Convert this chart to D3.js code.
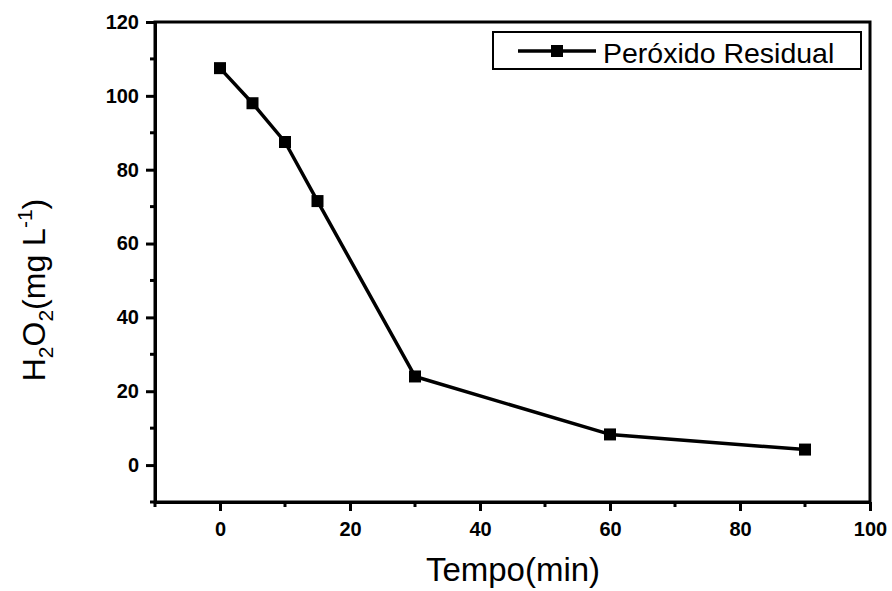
<!DOCTYPE html>
<html>
<head>
<meta charset="utf-8">
<script src="https://cdn.jsdelivr.net/npm/d3@7"></script>
<style>
  body { margin: 0; background: #fff; }
  svg { display: block; font-family: "Liberation Sans", Arial, sans-serif; }
</style>
</head>
<body>
<svg id="chart" width="892" height="591"></svg>
<script>
// Residual hydrogen peroxide over reaction time
const tempo = [0, 5, 10, 15, 30, 60, 90];
const peroxido = [107.5, 98, 87.5, 71.5, 24, 8.3, 4.2];
const xTicks = [0, 20, 40, 60, 80, 100];
const yTicks = [0, 20, 40, 60, 80, 100, 120];
const seriesName = "Peróxido Residual";

const svg = d3.select("#chart");
const plotLeft = 155, plotRight = 870, plotTop = 22, plotBottom = 502;

const x = d3.scaleLinear().domain([-10, 100]).range([plotLeft, plotRight]);
const y = d3.scaleLinear().domain([-10, 120]).range([plotBottom, plotTop]);

// frame
svg.append("rect")
  .attr("x", plotLeft).attr("y", plotTop)
  .attr("width", plotRight - plotLeft).attr("height", plotBottom - plotTop)
  .attr("fill", "none").attr("stroke", "#000").attr("stroke-width", 3);

// bottom axis: major + minor ticks
const xAxis = d3.axisBottom(x).tickValues(xTicks).tickSize(9).tickSizeOuter(0).tickPadding(11)
  .tickFormat(d3.format("d"));
const gx = svg.append("g").attr("transform", `translate(0,${plotBottom})`).call(xAxis);
const xMinor = d3.range(-10, 100, 10).filter(v => !xTicks.includes(v));
gx.selectAll(".minor").data(xMinor).enter().append("line")
  .attr("class", "minor")
  .attr("x1", d => x(d)).attr("x2", d => x(d))
  .attr("y1", 0).attr("y2", 5);

// left axis
const yAxis = d3.axisLeft(y).tickValues(yTicks).tickSize(9).tickSizeOuter(0).tickPadding(7)
  .tickFormat(d3.format("d"));
const gy = svg.append("g").attr("transform", `translate(${plotLeft},0)`).call(yAxis);
const yMinor = d3.range(-10, 120, 10).filter(v => !yTicks.includes(v));
gy.selectAll(".minor").data(yMinor).enter().append("line")
  .attr("class", "minor")
  .attr("x1", 0).attr("x2", -5)
  .attr("y1", d => y(d)).attr("y2", d => y(d));

[gx, gy].forEach(g => {
  g.select(".domain").attr("stroke", "#000").attr("stroke-width", 3);
  g.selectAll("line").attr("stroke", "#000").attr("stroke-width", 3);
  g.selectAll("text")
    .attr("fill", "#000")
    .style("font-size", "20px")
    .style("font-weight", "bold")
    .style("font-family", "\"Liberation Sans\", Arial, sans-serif");
});

// series line
const line = d3.line().x((d, i) => x(tempo[i])).y(d => y(d));
svg.append("path")
  .datum(peroxido)
  .attr("d", line)
  .attr("fill", "none")
  .attr("stroke", "#000")
  .attr("stroke-width", 3.5)
  .attr("stroke-linejoin", "round");

const ms = 12;
svg.selectAll(".pt").data(peroxido).enter().append("rect")
  .attr("class", "pt")
  .attr("x", (d, i) => x(tempo[i]) - ms / 2)
  .attr("y", d => y(d) - ms / 2)
  .attr("width", ms).attr("height", ms)
  .attr("fill", "#000");

// legend
const lg = svg.append("g");
lg.append("rect")
  .attr("x", 493).attr("y", 32).attr("width", 368).attr("height", 37)
  .attr("fill", "#fff").attr("stroke", "#000").attr("stroke-width", 2);
lg.append("line")
  .attr("x1", 518).attr("x2", 596).attr("y1", 51).attr("y2", 51)
  .attr("stroke", "#000").attr("stroke-width", 3.5);
lg.append("rect")
  .attr("x", 557 - ms / 2).attr("y", 51 - ms / 2)
  .attr("width", ms).attr("height", ms).attr("fill", "#000");
lg.append("text")
  .attr("x", 603).attr("y", 63)
  .style("font-size", "28.5px")
  .text(seriesName);

// axis titles
svg.append("text")
  .attr("x", 513).attr("y", 581)
  .attr("text-anchor", "middle")
  .style("font-size", "33px")
  .text("Tempo(min)");

const yt = svg.append("text")
  .attr("transform", `translate(45,290) rotate(-90)`)
  .attr("text-anchor", "middle")
  .style("font-size", "32px");
yt.append("tspan").text("H");
yt.append("tspan").attr("dy", 8).style("font-size", "21px").text("2");
yt.append("tspan").attr("dy", -8).text("O");
yt.append("tspan").attr("dy", 8).style("font-size", "21px").text("2");
yt.append("tspan").attr("dy", -8).text("(mg L");
yt.append("tspan").attr("dy", -13).style("font-size", "21px").text("-1");
yt.append("tspan").attr("dy", 13).text(")");
</script>
</body>
</html>
